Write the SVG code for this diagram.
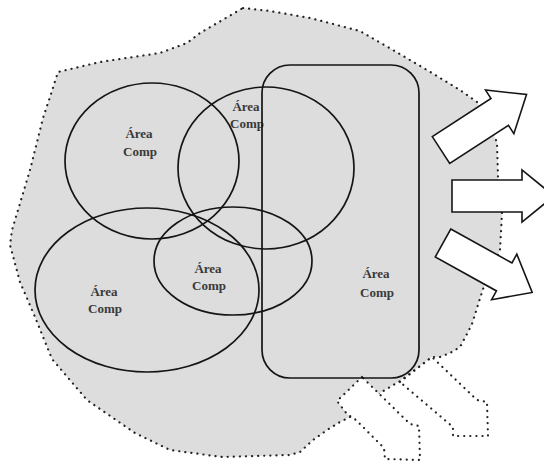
<svg xmlns="http://www.w3.org/2000/svg" width="544" height="465" viewBox="0 0 544 465">
<style>
.dot{stroke:#222;stroke-width:2.2;stroke-dasharray:0.1 6;stroke-linecap:round;stroke-linejoin:round}
.blob{fill:#dddddd}
.in{fill:#ffffff}
.area{fill:none;stroke:#151515;stroke-width:1.7}
.out{fill:#ffffff;stroke:#151515;stroke-width:1.6;stroke-linejoin:miter}
.lbl{font-family:"Liberation Serif","Times New Roman",serif;font-weight:bold;font-size:13px;fill:#3a3a3a;text-anchor:middle}
</style>
<defs>
<polygon id="arr" points="0,-16 70,-16 70,-26 102,0 70,26 70,16 0,16"/>
</defs>
<g id="region">
<path class="blob dot" d="M243,8 L270,11 L310,18 L360,31 L393,50 L427,70 L460,90 L477,102 L497,142 L498,177 L502,213 L500,250 L483,289 L472,324 L467,334 L460,347 L450,353 L440,357 L432,357 L400,381 L380,393 L350,417 L340,422 L327,430 L313,440 L300,452 L290,455 L222,457 L170,450 L135,433 L87,400 L52,359 L35,317 L20,282 L10,245 L12,230 L30,170 L43,118 L50,97 L58,72 L100,62 L160,53 L187,43 L200,33 Z"/>
</g>
<g id="input-1">
<polygon class="in dot" points="362,377 337,401 347,414 356,420 384,448 385,459 420,460 419,426 410,424"/>
</g>
<g id="input-2">
<polygon class="in dot" points="400,382 432,357 477,400 487,402 488,436 453,436 453,427"/>
</g>
<g id="area-1">
<ellipse class="area" cx="152" cy="161" rx="87" ry="78"/>
<text class="lbl" x="139" y="138">Área</text>
<text class="lbl" x="140" y="156">Comp</text>
</g>
<g id="area-2">
<ellipse class="area" cx="266" cy="168" rx="88" ry="81"/>
<text class="lbl" x="246" y="111">Área</text>
<text class="lbl" x="247" y="128">Comp</text>
</g>
<g id="area-3">
<ellipse class="area" cx="147" cy="290" rx="112" ry="82"/>
<text class="lbl" x="104" y="296">Área</text>
<text class="lbl" x="105" y="313">Comp</text>
</g>
<g id="area-4">
<ellipse class="area" cx="233" cy="261" rx="79" ry="54"/>
<text class="lbl" x="208" y="273">Área</text>
<text class="lbl" x="209" y="290">Comp</text>
</g>
<g id="area-5">
<rect class="area" x="262" y="65" width="157" height="313" rx="28" ry="28"/>
<text class="lbl" x="376" y="278">Área</text>
<text class="lbl" x="377" y="297">Comp</text>
</g>
<g id="outputs">
<use href="#arr" class="out" transform="translate(441,150) rotate(-33)"/>
<use href="#arr" class="out" transform="translate(452,196)"/>
<use href="#arr" class="out" transform="translate(443,243) rotate(29)"/>
</g>
</svg>
